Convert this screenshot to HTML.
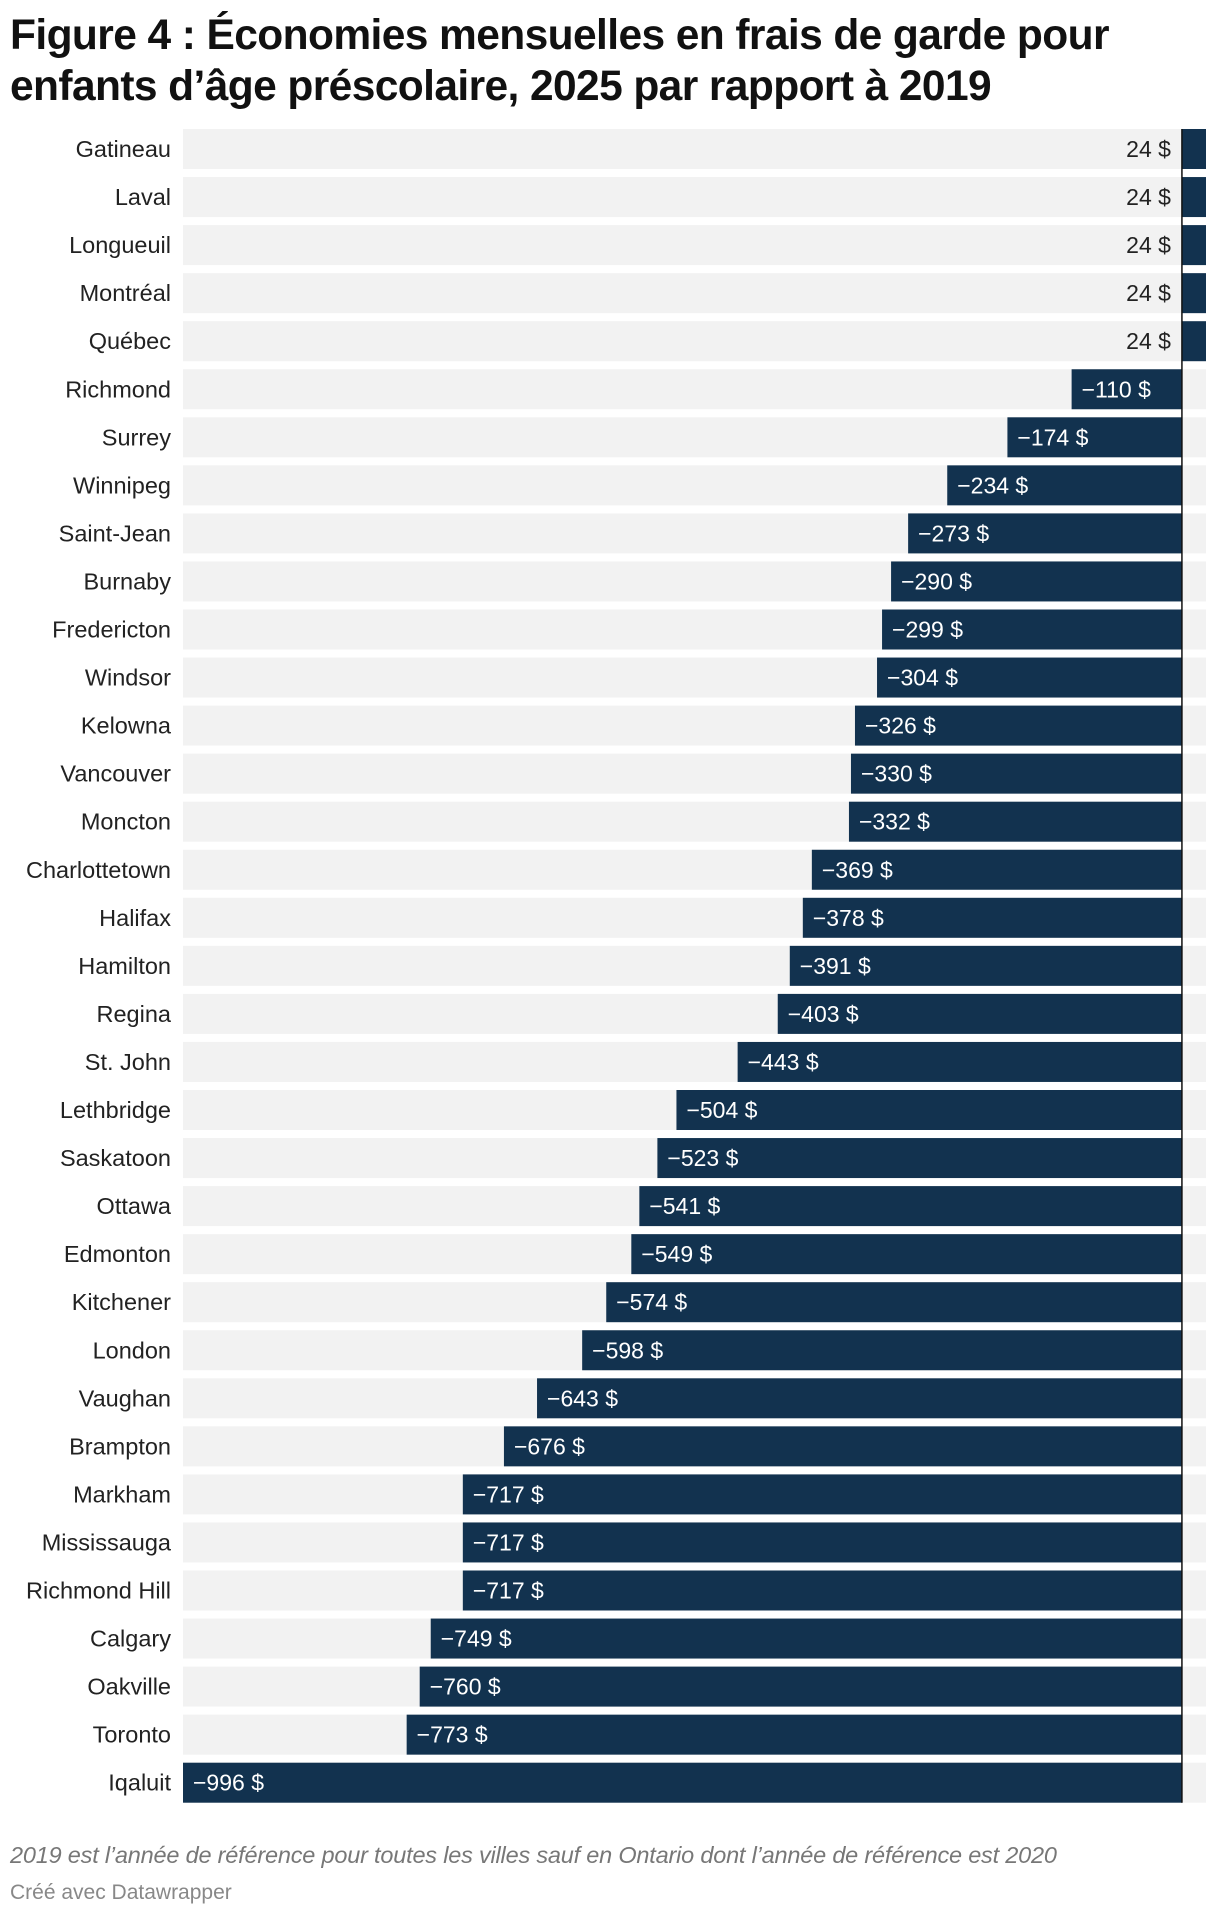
<!DOCTYPE html>
<html><head><meta charset="utf-8">
<style>
html,body{margin:0;padding:0;background:#fff;width:1220px;height:1916px;overflow:hidden;font-family:"Liberation Sans",sans-serif;}
#title{position:absolute;left:10px;top:10px;font-size:42.5px;font-weight:bold;line-height:51px;color:#111;letter-spacing:-0.6px;margin:0;}
#note{position:absolute;left:10px;top:1842px;font-size:23.5px;font-style:italic;color:#777;letter-spacing:-0.2px;}
#credit{position:absolute;left:10px;top:1881px;font-size:21px;color:#888;}
svg{position:absolute;left:0;top:0;}
</style></head><body>
<h1 id="title">Figure 4 : Économies mensuelles en frais de garde pour<br>enfants d’âge préscolaire, 2025 par rapport à 2019</h1>
<svg id="chart" width="1220" height="1916"></svg>
<div id="note">2019 est l’année de référence pour toutes les villes sauf en Ontario dont l’année de référence est 2020</div>
<div id="credit">Créé avec Datawrapper</div>
<script>
const cities=["Gatineau","Laval","Longueuil","Montréal","Québec","Richmond","Surrey","Winnipeg","Saint-Jean","Burnaby","Fredericton","Windsor","Kelowna","Vancouver","Moncton","Charlottetown","Halifax","Hamilton","Regina","St. John","Lethbridge","Saskatoon","Ottawa","Edmonton","Kitchener","London","Vaughan","Brampton","Markham","Mississauga","Richmond Hill","Calgary","Oakville","Toronto","Iqaluit"];
const values=[24,24,24,24,24,-110,-174,-234,-273,-290,-299,-304,-326,-330,-332,-369,-378,-391,-403,-443,-504,-523,-541,-549,-574,-598,-643,-676,-717,-717,-717,-749,-760,-773,-996];
const domain=[-996,24];
const NS="http://www.w3.org/2000/svg";
const svg=document.getElementById('chart');
const plotL=183,plotR=1206,top0=129,pitch=48.05,rowH=40;
const x=v=>plotL+(v-domain[0])/(domain[1]-domain[0])*(plotR-plotL);
const y=i=>top0+i*pitch;
function mk(t,a){const e=document.createElementNS(NS,t);for(const k in a)e.setAttribute(k,a[k]);svg.appendChild(e);return e;}
const fmt=v=>(v<0?"−"+Math.abs(v):v)+" $";
cities.forEach((c,i)=>{
  const bg=mk('rect',{x:plotL,y:y(i),width:plotR-plotL,height:rowH,fill:'#f2f2f2'});
  
  
  const v=values[i];
  const x0=x(Math.min(0,v)),x1=x(Math.max(0,v));
  const b=mk('rect',{x:x0,y:y(i),width:x1-x0,height:rowH,fill:'#12324f'});
  
  
  const lab=mk('text',{x:171,y:y(i)+rowH/2+8,'text-anchor':'end','font-size':23.5,fill:'#222','font-family':'Liberation Sans, sans-serif'});
  lab.textContent=c;
  
  
  let vt;
  if(v<0){vt=mk('text',{x:x0+10,y:y(i)+rowH/2+8,'font-size':23,fill:'#fff','font-family':'Liberation Sans, sans-serif'});}
  else{vt=mk('text',{x:x(0)-11,y:y(i)+rowH/2+8,'text-anchor':'end','font-size':23,fill:'#222','font-family':'Liberation Sans, sans-serif'});}
  vt.textContent=fmt(v);
  
  
});
const zl=mk('line',{x1:x(0),x2:x(0),y1:top0,y2:y(cities.length-1)+rowH,stroke:'#111','stroke-width':1.5});


</script>
</body></html>
